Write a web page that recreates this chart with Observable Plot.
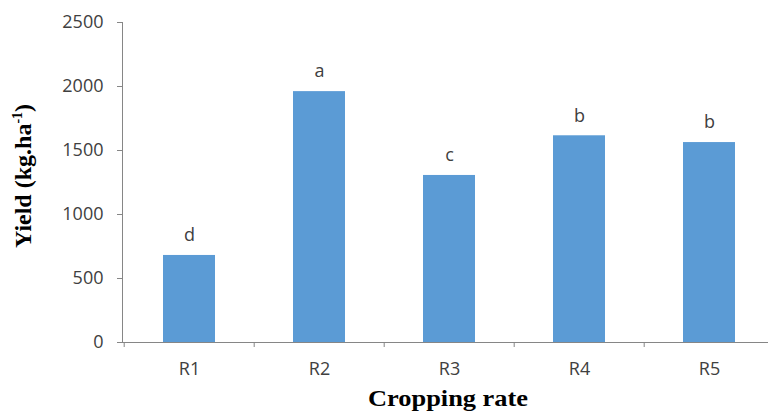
<!DOCTYPE html>
<html>
<head>
<meta charset="utf-8">
<script src="https://cdn.jsdelivr.net/npm/d3@7"></script>
<script src="https://cdn.jsdelivr.net/npm/@observablehq/plot@0.6"></script>
<style>
  html, body { margin: 0; padding: 0; background: #fff; }
  #chart svg { display: block; }
</style>
</head>
<body>
<div id="chart"></div>
<script>
const categories = ["R1", "R2", "R3", "R4", "R5"];
const yields = [680, 1960, 1305, 1615, 1562];
const letters = ["d", "a", "c", "b", "b"];
const yTicks = [0, 500, 1000, 1500, 2000, 2500];
const xTitle = "Cropping rate";
const yTitle = "Yield (kg.ha";
const yTitleSup = "-1";

const data = categories.map((c, i) => ({cat: c, v: yields[i], letter: letters[i]}));

const axisGray = "#868686";
const textGray = "#404040";

const chart = Plot.plot({
  width: 768,
  height: 412,
  marginLeft: 122,
  marginTop: 22,
  marginBottom: 70,
  marginRight: 0,
  style: {fontFamily: "'Open Sans', sans-serif", background: "#fff"},
  x: {domain: categories, range: [122, 775], paddingInner: 0.6, paddingOuter: 0.3},
  y: {domain: [0, 2500], range: [342, 22]},
  marks: [
    Plot.barY(data, {x: "cat", y: "v", fill: "#5B9BD5"}),
    Plot.text(data, {x: "cat", y: "v", text: "letter", dy: -20, fontSize: 18, fill: textGray}),
    Plot.frame({anchor: "left", stroke: axisGray}),
    Plot.frame({anchor: "bottom", stroke: axisGray}),
    Plot.axisY({ticks: yTicks, tickSize: 5, tickPadding: 14, label: null, fontSize: 18,
      tickFormat: d => String(d), stroke: axisGray, fill: textGray}),
    Plot.axisX({tickSize: 5, text: null, label: null, dx: -65.3, stroke: axisGray}),
    Plot.axisX({tickSize: 0, tickPadding: 20, label: null, fontSize: 18, fill: textGray})
  ]
});

const svg = d3.select(chart);
svg.append("text")
  .attr("x", 448)
  .attr("y", 406)
  .attr("text-anchor", "middle")
  .attr("font-family", "'Liberation Serif', 'Times New Roman', serif")
  .attr("font-weight", "bold")
  .attr("font-size", 24)
  .attr("textLength", 160)
  .attr("lengthAdjust", "spacingAndGlyphs")
  .attr("fill", "#000")
  .text(xTitle);

const yt = svg.append("text")
  .attr("transform", "translate(31,176) rotate(-90)")
  .attr("text-anchor", "middle")
  .attr("font-family", "'Liberation Serif', 'Times New Roman', serif")
  .attr("font-weight", "bold")
  .attr("font-size", 24)
  .attr("fill", "#000");
yt.append("tspan").text(yTitle);
yt.append("tspan").attr("font-size", 14).attr("dy", -9).text(yTitleSup);
yt.append("tspan").attr("dy", 9).text(")");

document.getElementById("chart").append(chart);
</script>
</body>
</html>
